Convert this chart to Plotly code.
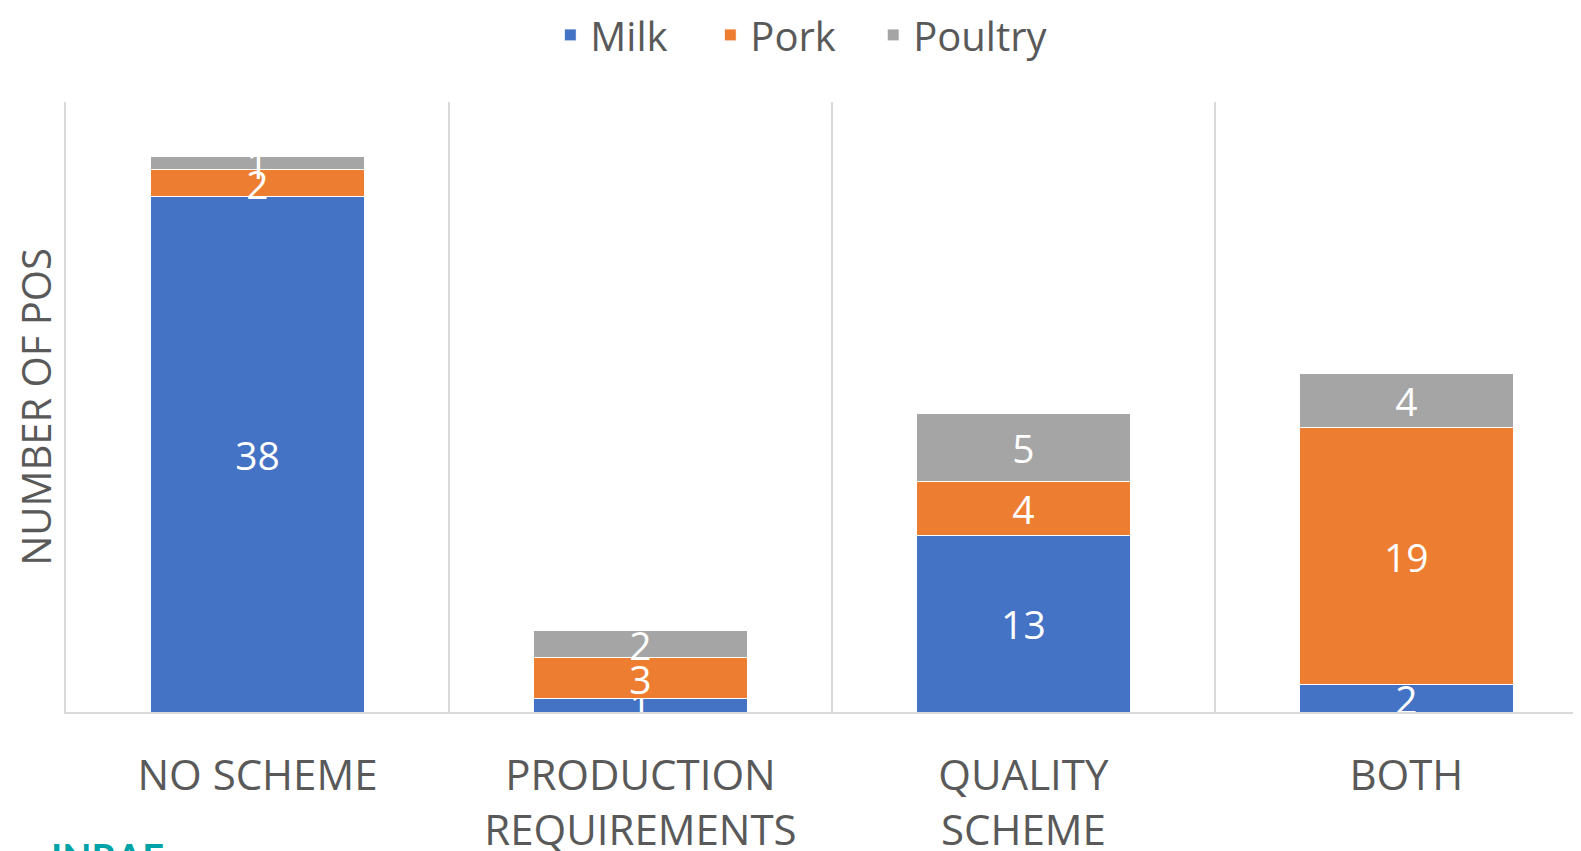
import plotly.graph_objects as go

categories = ["NO SCHEME", "PRODUCTION<br>REQUIREMENTS", "QUALITY<br>SCHEME", "BOTH"]
milk = [38, 1, 13, 2]
pork = [2, 3, 4, 19]
poultry = [1, 2, 5, 4]

series = [
    ("Milk", milk, "#4472C4", "legend"),
    ("Pork", pork, "#ED7D31", "legend"),
    ("Poultry", poultry, "#A5A5A5", "legend2"),
]

FONT = "Open Sans"
GREY = "#595959"

fig = go.Figure()
for name, vals, color, leg in series:
    fig.add_trace(go.Bar(
        name=name,
        x=categories,
        y=vals,
        text=[str(v) for v in vals],
        textposition="inside",
        insidetextanchor="middle",
        textangle=0,
        constraintext="none",
        textfont=dict(family=FONT, size=39, color="white"),
        marker=dict(color=color, line=dict(color="white", width=1)),
        width=0.56,
        cliponaxis=False,
        legend=leg,
    ))

legend_common = dict(
    orientation="h",
    y=1.11, yanchor="middle",
    xanchor="left",
    font=dict(family=FONT, size=40, color=GREY),
    traceorder="normal",
    itemclick=False,
    bgcolor="rgba(0,0,0,0)",
)

fig.update_layout(
    width=1581,
    height=851,
    barmode="stack",
    plot_bgcolor="white",
    paper_bgcolor="white",
    margin=dict(l=58, r=0, t=94, b=147, autoexpand=False),
    font=dict(family=FONT, color=GREY),
    legend=dict(x=0.318, entrywidth=115, entrywidthmode="pixels", **legend_common),
    legend2=dict(x=0.530, **legend_common),
    xaxis=dict(
        type="category",
        range=[-0.5, 3.477],
        tickson="boundaries",
        showgrid=True,
        gridcolor="#d9d9d9",
        gridwidth=2,
        showline=True,
        linecolor="#d9d9d9",
        linewidth=2,
        ticks="",
        ticklabelstandoff=26,
        tickfont=dict(family=FONT, size=42, color=GREY),
        zeroline=False,
    ),
    yaxis=dict(
        range=[0, 45],
        showgrid=False,
        showticklabels=False,
        ticks="",
        showline=True,
        linecolor="#d9d9d9",
        linewidth=2,
        zeroline=False,
        title=dict(text="NUMBER OF POS", font=dict(family=FONT, size=40, color=GREY), standoff=8),
    ),
)

fig.add_annotation(
    text="<b>INRAE</b>",
    xref="paper", yref="paper",
    x=-0.011, y=-0.197,
    xanchor="left", yanchor="top",
    showarrow=False,
    font=dict(family="Lato", size=38, color="#00A3A6"),
)

fig.write_html("out.html")
